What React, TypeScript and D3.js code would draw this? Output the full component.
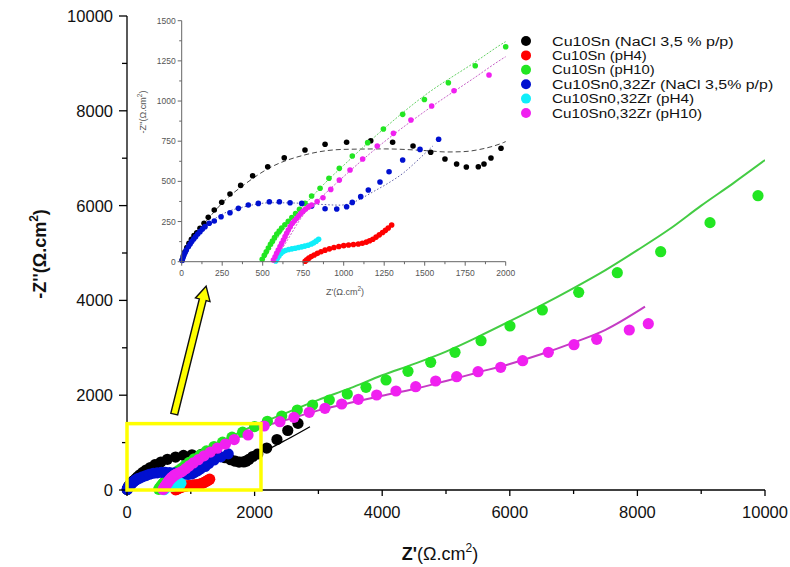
import React from "react";
import * as d3 from "d3";

type P = [number, number];

const SERIES_NAMES = [
  "Cu10Sn (NaCl 3,5 % p/p)",
  "Cu10Sn (pH4)",
  "Cu10Sn (pH10)",
  "Cu10Sn0,32Zr (NaCl 3,5% p/p)",
  "Cu10Sn0,32Zr (pH4)",
  "Cu10Sn0,32Zr (pH10)",
];
const SERIES_COLORS = ["#000000", "#ff0000", "#22e622", "#0010d0", "#10eefa", "#f020f0"];

const blackPts: P[] = [
  [3, 10], [10, 35], [20, 60], [32, 88], [45, 115], [60, 140], [76, 162], [93, 180], [113, 208],
  [138, 239], [164, 276], [201, 322], [247, 370], [298, 421], [364, 475], [438, 535], [531, 591],
  [633, 647], [761, 695], [885, 731], [1018, 743], [1167, 753], [1302, 743], [1428, 720],
  [1537, 681], [1625, 639], [1697, 608], [1757, 589], [1831, 591], [1866, 608], [1909, 645],
  [1971, 706], [2050, 760], [2190, 885], [2350, 1065], [2520, 1255], [2680, 1405],
];
const redPts: P[] = [
  [762, 3], [772, 12], [785, 22], [800, 32], [818, 42], [838, 52], [860, 62], [885, 72], [912, 80],
  [940, 88], [970, 95], [1000, 100], [1030, 104], [1060, 107], [1090, 110], [1115, 115],
  [1140, 122], [1160, 130], [1180, 140], [1200, 153], [1220, 167], [1240, 182], [1258, 195],
  [1275, 210], [1296, 228],
];
const greenPts: P[] = [
  [497, 15], [510, 40], [522, 62], [535, 85], [548, 108], [560, 128], [573, 150], [587, 172],
  [602, 190], [617, 210], [637, 230], [658, 252], [680, 275], [703, 300], [727, 326], [761, 363],
  [802, 409], [854, 457], [909, 519], [973, 581], [1053, 658], [1148, 741], [1245, 826],
  [1364, 917], [1498, 1010], [1646, 1114], [1812, 1220], [2000, 1338], [2200, 1450],
  [2425, 1561], [2669, 1688], [2909, 1793], [3171, 1899], [3453, 2025], [3746, 2166],
  [4060, 2321], [4404, 2504], [4760, 2694], [5141, 2905], [5549, 3150], [6003, 3460],
  [6510, 3797], [7080, 4170], [7685, 4585], [8365, 5028], [9138, 5640], [9890, 6209],
];
const bluePts: P[] = [
  [3, 8], [8, 25], [14, 42], [20, 55], [28, 72], [41, 93], [52, 110], [62, 125], [74, 141],
  [86, 156], [99, 172], [113, 187], [128, 203], [144, 218], [170, 239], [201, 253], [243, 280],
  [298, 305], [350, 332], [411, 353], [473, 363], [541, 373], [603, 373], [669, 367], [741, 363],
  [802, 347], [885, 330], [957, 328], [1018, 342], [1053, 369], [1105, 405], [1152, 446],
  [1224, 496], [1280, 560], [1364, 633], [1471, 699], [1586, 762],
];
const cyanPts: P[] = [
  [580, 5], [590, 20], [600, 35], [612, 50], [625, 62], [640, 70], [660, 76], [680, 80],
  [700, 84], [720, 88], [740, 92], [760, 97], [780, 102], [800, 110], [815, 118], [830, 128],
  [845, 140],
];
const magentaPts: P[] = [
  [566, 11], [576, 31], [586, 52], [596, 73], [607, 94], [617, 114], [628, 135], [638, 156],
  [648, 177], [658, 197], [670, 218], [683, 239], [696, 255], [710, 270], [723, 286], [736, 301],
  [750, 315], [765, 328], [783, 341], [802, 353], [836, 375], [872, 398], [920, 450], [973, 508],
  [1039, 571], [1117, 639], [1207, 720], [1307, 799], [1415, 882], [1543, 969], [1681, 1064],
  [1897, 1162], [2150, 1350], [2398, 1441], [2617, 1533], [2857, 1639], [3103, 1723],
  [3365, 1814], [3626, 1913], [3913, 2004], [4216, 2089], [4525, 2180], [4838, 2300],
  [5167, 2390], [5502, 2496], [5857, 2588], [6202, 2728], [6604, 2905], [7006, 3066],
  [7362, 3179], [7873, 3376], [8171, 3509],
];
const SERIES_POINTS = [blackPts, redPts, greenPts, bluePts, cyanPts, magentaPts];

// fitted curves
const blackFit: P[] = [
  [0, 0], [20, 55], [50, 110], [100, 185], [150, 250], [250, 365], [400, 490], [535, 580],
  [761, 665], [998, 699], [1250, 702], [1512, 691], [1636, 683], [1739, 685], [1841, 699],
  [1985, 741], [2100, 800], [2241, 880], [2500, 1060], [2868, 1335],
];
const blueFit: P[] = [
  [0, 0], [30, 70], [80, 148], [150, 225], [250, 295], [400, 345], [550, 367], [700, 365],
  [850, 357], [977, 352], [1050, 366], [1120, 400], [1183, 436], [1280, 492], [1368, 552],
  [1450, 625], [1512, 684], [1550, 720],
];
const greenFit: P[] = [
  [500, 0], [600, 160], [700, 290], [800, 400], [900, 505], [1000, 600], [1200, 785],
  [1500, 1035], [1800, 1235], [2000, 1370], [2241, 1491], [3000, 1900], [3500, 2150],
  [4000, 2420], [4500, 2660], [5000, 2920], [5500, 3230], [6000, 3560], [6500, 3900],
  [7000, 4260], [7500, 4640], [8000, 5060], [8500, 5500], [9000, 6000], [9500, 6470],
  [10000, 6960],
];
const magentaFit: P[] = [
  [570, 0], [650, 130], [750, 290], [850, 390], [1000, 530], [1200, 705], [1500, 935],
  [1800, 1140], [2000, 1276], [2500, 1480], [3000, 1680], [3500, 1840], [4000, 1990],
  [4500, 2130], [5000, 2300], [5500, 2480], [6000, 2660], [6500, 2870], [7000, 3110],
  [7500, 3380], [8119, 3868],
];

const MAIN_X_TICKS = [0, 2000, 4000, 6000, 8000, 10000];
const MAIN_Y_TICKS = [0, 2000, 4000, 6000, 8000, 10000];
const INSET_X_TICKS = [0, 250, 500, 750, 1000, 1250, 1500, 1750, 2000];
const INSET_Y_TICKS = [0, 250, 500, 750, 1000, 1250, 1500];

const ZOOM_BOX = { x0: 0, x1: 2100, y0: 0, y1: 1400 };
const ARROW_FROM: P = [740, 1600];
const ARROW_TO: P = [1240, 4300];

const FONT = "'Liberation Sans', Arial, sans-serif";

export default function App() {
  const W = 790, H = 567;
  const x = d3.scaleLinear().domain([0, 10000]).range([127, 765]);
  const y = d3.scaleLinear().domain([0, 10000]).range([490, 16]);
  const ix = d3.scaleLinear().domain([0, 2000]).range([181.7, 505.7]);
  const iy = d3.scaleLinear().domain([0, 1500]).range([261.7, 20.7]);

  const mainLine = d3.line<P>().x(d => x(d[0])).y(d => y(d[1])).curve(d3.curveMonotoneX);
  const insetLine = d3.line<P>().x(d => ix(d[0])).y(d => iy(d[1])).curve(d3.curveMonotoneX);

  const mainMinorX = d3.range(1000, 10000, 2000);
  const mainMinorY = d3.range(1000, 10000, 2000);
  const insetMinorX = d3.range(125, 2000, 250);
  const insetMinorY = d3.range(125, 1500, 250);

  // arrow geometry
  const ax0 = x(ARROW_FROM[0]), ay0 = y(ARROW_FROM[1]);
  const ax1 = x(ARROW_TO[0]), ay1 = y(ARROW_TO[1]);
  const dx = ax1 - ax0, dy = ay1 - ay0;
  const len = Math.hypot(dx, dy);
  const ux = dx / len, uy = dy / len;
  const nx = -uy, ny = ux;
  const sw = 3.5, hw = 7.5, hl = 14;
  const bx = ax1 - ux * hl, by = ay1 - uy * hl;
  const arrowPts: P[] = [
    [ax0 + nx * sw, ay0 + ny * sw],
    [bx + nx * sw, by + ny * sw],
    [bx + nx * hw, by + ny * hw],
    [ax1, ay1],
    [bx - nx * hw, by - ny * hw],
    [bx - nx * sw, by - ny * sw],
    [ax0 - nx * sw, ay0 - ny * sw],
  ];

  const legendY = [41, 55.4, 69.8, 84.2, 98.6, 113];

  return (
    <svg width={W} height={H} style={{ position: "absolute", left: 0, top: 0, background: "#fff" }} fontFamily={FONT}>
      <defs>
        <clipPath id="mainClip">
          <rect x={x(0) - 8} y={y(10000)} width={x(10000) - x(0) + 8} height={y(0) - y(10000) + 8} />
        </clipPath>
        <clipPath id="insetClip">
          <rect x={ix(0)} y={iy(1500)} width={ix(2000) - ix(0)} height={iy(0) - iy(1500)} />
        </clipPath>
      </defs>
      <rect x={0} y={0} width={W} height={H} fill="#fff" />

      {/* main fits */}
      <g clipPath="url(#mainClip)" fill="none">
        <path d={mainLine(blackFit) || ""} stroke="#000" strokeWidth={1.3} />
        <path d={mainLine(greenFit) || ""} stroke="#44cc44" strokeWidth={2} />
        <path d={mainLine(magentaFit) || ""} stroke="#c43cc4" strokeWidth={2} />
      </g>
      {/* main points */}
      <g>
        {SERIES_POINTS.map((pts, si) => (
          <g key={si} fill={SERIES_COLORS[si]}>
            {pts.map((p, i) => (
              <circle key={i} cx={x(p[0])} cy={y(p[1])} r={5.6} />
            ))}
          </g>
        ))}
      </g>

      {/* main axes */}
      <g stroke="#000" strokeWidth={1.3}>
        <line x1={x(0)} y1={y(0)} x2={x(10000)} y2={y(0)} />
        <line x1={x(0)} y1={y(0)} x2={x(0)} y2={y(10000)} />
        {MAIN_X_TICKS.map(t => (
          <line key={"mx" + t} x1={x(t)} x2={x(t)} y1={y(0)} y2={y(0) + 6} />
        ))}
        {mainMinorX.map(t => (
          <line key={"mmx" + t} x1={x(t)} x2={x(t)} y1={y(0)} y2={y(0) + 4} />
        ))}
        {MAIN_Y_TICKS.map(t => (
          <line key={"my" + t} x1={x(0) - 8} x2={x(0)} y1={y(t)} y2={y(t)} />
        ))}
        {mainMinorY.map(t => (
          <line key={"mmy" + t} x1={x(0) - 5} x2={x(0)} y1={y(t)} y2={y(t)} />
        ))}
      </g>
      <g fontSize={16.5} fill="#111">
        {MAIN_X_TICKS.map(t => (
          <text key={"lx" + t} x={x(t)} y={518} textAnchor="middle">{t}</text>
        ))}
        {MAIN_Y_TICKS.map(t => (
          <text key={"ly" + t} x={113} y={y(t) + 6} textAnchor="end">{t}</text>
        ))}
      </g>
      <text x={440} y={560} textAnchor="middle" fontSize={18} fill="#111">
        <tspan fontWeight="bold">Z'</tspan>
        <tspan>(Ω.cm</tspan>
        <tspan dy={-8} fontSize={12}>2</tspan>
        <tspan dy={8}>)</tspan>
      </text>
      <text transform={`translate(46,254) rotate(-90)`} textAnchor="middle" fontSize={18} fill="#111" fontWeight="bold">
        <tspan>-Z''(Ω.cm</tspan>
        <tspan dy={-8} fontSize={12}>2</tspan>
        <tspan dy={8}>)</tspan>
      </text>

      {/* zoom box */}
      <rect
        x={x(ZOOM_BOX.x0)}
        y={y(ZOOM_BOX.y1)}
        width={x(ZOOM_BOX.x1) - x(ZOOM_BOX.x0)}
        height={y(ZOOM_BOX.y0) - y(ZOOM_BOX.y1)}
        fill="none"
        stroke="#ffff00"
        strokeWidth={3.5}
      />
      {/* arrow */}
      <polygon
        points={arrowPts.map(p => p.join(",")).join(" ")}
        fill="#ffff00"
        stroke="#111"
        strokeWidth={1.4}
        strokeLinejoin="miter"
      />

      {/* inset */}
      <g clipPath="url(#insetClip)" fill="none">
        <path d={insetLine(blackFit) || ""} stroke="#333" strokeWidth={0.9} strokeDasharray="5,3" />
        <path d={insetLine(blueFit) || ""} stroke="#4a4a9a" strokeWidth={0.9} strokeDasharray="1.5,2" />
        <path d={insetLine(greenFit) || ""} stroke="#55cc55" strokeWidth={0.9} strokeDasharray="2,1.5" />
        <path d={insetLine(magentaFit) || ""} stroke="#c050c0" strokeWidth={0.9} strokeDasharray="2,1.5" />
      </g>
      <g>
        {SERIES_POINTS.map((pts, si) => (
          <g key={si} fill={SERIES_COLORS[si]}>
            {pts.filter(p => p[0] <= 2005 && p[1] <= 1500).map((p, i) => (
              <circle key={i} cx={ix(p[0])} cy={iy(p[1])} r={2.8} />
            ))}
          </g>
        ))}
      </g>
      <g stroke="#666" strokeWidth={1}>
        <line x1={ix(0)} y1={iy(0)} x2={ix(2000)} y2={iy(0)} />
        <line x1={ix(0)} y1={iy(0)} x2={ix(0)} y2={iy(1500)} />
        {INSET_X_TICKS.map(t => (
          <line key={"ix" + t} x1={ix(t)} x2={ix(t)} y1={iy(0)} y2={iy(0) + 4} />
        ))}
        {insetMinorX.map(t => (
          <line key={"imx" + t} x1={ix(t)} x2={ix(t)} y1={iy(0)} y2={iy(0) + 2.5} />
        ))}
        {INSET_Y_TICKS.map(t => (
          <line key={"iy" + t} x1={ix(0) - 4} x2={ix(0)} y1={iy(t)} y2={iy(t)} />
        ))}
        {insetMinorY.map(t => (
          <line key={"imy" + t} x1={ix(0) - 2.5} x2={ix(0)} y1={iy(t)} y2={iy(t)} />
        ))}
      </g>
      <g fontSize={8.5} fill="#555">
        {INSET_X_TICKS.map(t => (
          <text key={"ilx" + t} x={ix(t)} y={iy(0) + 14} textAnchor="middle">{t}</text>
        ))}
        {INSET_Y_TICKS.map(t => (
          <text key={"ily" + t} x={ix(0) - 6} y={iy(t) + 3} textAnchor="end">{t}</text>
        ))}
      </g>
      <text x={345} y={295} textAnchor="middle" fontSize={9} fill="#555">
        <tspan>Z'(Ω.cm</tspan>
        <tspan dy={-4} fontSize={6.5}>2</tspan>
        <tspan dy={4}>)</tspan>
      </text>
      <text transform={`translate(146,112) rotate(-90)`} textAnchor="middle" fontSize={9} fill="#555">
        <tspan>-Z''(Ω.cm</tspan>
        <tspan dy={-4} fontSize={6.5}>2</tspan>
        <tspan dy={4}>)</tspan>
      </text>

      {/* legend */}
      <g fontSize={12.5} fill="#111">
        {SERIES_NAMES.map((name, i) => (
          <g key={name}>
            <circle cx={526} cy={legendY[i]} r={5} fill={SERIES_COLORS[i]} />
            <text x={552} y={legendY[i] + 4.5} textLength={name.length * 7.9} lengthAdjust="spacingAndGlyphs">{name}</text>
          </g>
        ))}
      </g>
    </svg>
  );
}
